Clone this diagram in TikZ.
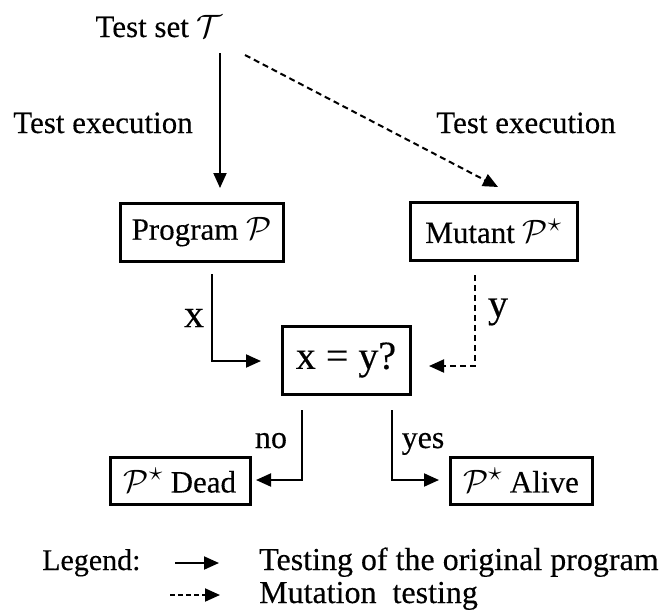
\documentclass[tikz,border=0pt]{standalone}
\usepackage{graphicx}
\usepackage{fontspec}
\setmainfont[FakeBold=0.3]{Liberation Serif}
\usetikzlibrary{arrows.meta}
% calligraphic symbols set a little larger than the text around them
\newcommand{\calsym}[1]{\scalebox{1.3}{$\mathcal{#1}$}}
\newcommand{\mutsym}{\scalebox{1.3}{$\mathcal{P}^{\star}$}}
\begin{document}
\begin{tikzpicture}[x=1pt,y=-1pt,
  txt/.style={inner sep=0pt,font=\fontsize{31}{37}\selectfont},
  bigtxt/.style={inner sep=0pt,font=\fontsize{40}{46}\selectfont},
  box/.style={draw,line width=3pt,minimum width=#1,inner sep=0pt,font=\fontsize{31}{37}\selectfont},
  conn/.style={line width=2pt,-{Triangle[length=15pt,width=13pt]}},
  mut/.style={conn,dash pattern=on 6pt off 4pt},
]
\useasboundingbox (0,0) rectangle (670,614);

% texts
\node[txt,anchor=base] (ts) at (159,37) {Test set \calsym{T}};
\node[txt,anchor=base] (te1) at (103,133) {Test execution};
\node[txt,anchor=base] (te2) at (526,133) {Test execution};

% boxes
\node[box=163pt,minimum height=58pt] (prog) at (201.5,232) {Program \calsym{P}};
\node[box=167pt,minimum height=58pt] (mutant) at (493.5,231) {Mutant \mutsym};
\node[box=128pt,minimum height=68pt,font=\fontsize{40}{46}\selectfont] (cmp) at (346,360) {x = y?};
\node[box=140pt,minimum height=47pt] (dead) at (180,480.5) {\mutsym\ Dead};
\node[box=142pt,minimum height=47pt] (alive) at (521,480.5) {\mutsym\ Alive};

% edge labels
\node[bigtxt] (lx) at (194,318) {x};
\node[bigtxt] (ly) at (498,312) {y};
\node[txt,font=\fontsize{32}{38}\selectfont,anchor=base] (lno) at (271,448) {no};
\node[txt,font=\fontsize{32}{38}\selectfont,anchor=base] (lyes) at (423,448) {yes};

% connector ends
\coordinate (s1) at (220,53);
\coordinate (e1) at (220,188);
\coordinate (s2) at (245,55);
\coordinate (e2) at (498,187);
\coordinate (sx) at (212,274);
\coordinate (ex) at (261,361);
\coordinate (sy) at (475,275);
\coordinate (ey) at (429,366);
\coordinate (sno) at (302,410);
\coordinate (eno) at (256,480);
\coordinate (syes) at (392,410);
\coordinate (eyes) at (439,480);

\draw[conn] (s1) -- (e1);
\draw[mut] (s2) -- (e2);
\draw[conn] (sx) |- (ex);
\draw[mut] (sy) |- (ey);
\draw[conn] (sno) |- (eno);
\draw[conn] (syes) |- (eyes);

% legend
\node[txt,anchor=base west,font=\fontsize{30}{36}\selectfont] (leg) at (42,570) {Legend:};
\coordinate (l1s) at (175,563);
\coordinate (l1e) at (219,563);
\coordinate (l2s) at (170,595);
\coordinate (l2e) at (220,595);
\draw[conn] (l1s) -- (l1e);
\draw[mut,dash pattern=on 5pt off 3pt] (l2s) -- (l2e);
\node[txt,anchor=base west,font=\fontsize{32}{38}\selectfont] (leg1) at (259,570) {Testing of the original program};
\node[txt,anchor=base west,font=\fontsize{32}{38}\selectfont] (leg2) at (259,603) {Mutation\ \ testing};
\end{tikzpicture}
\end{document}
